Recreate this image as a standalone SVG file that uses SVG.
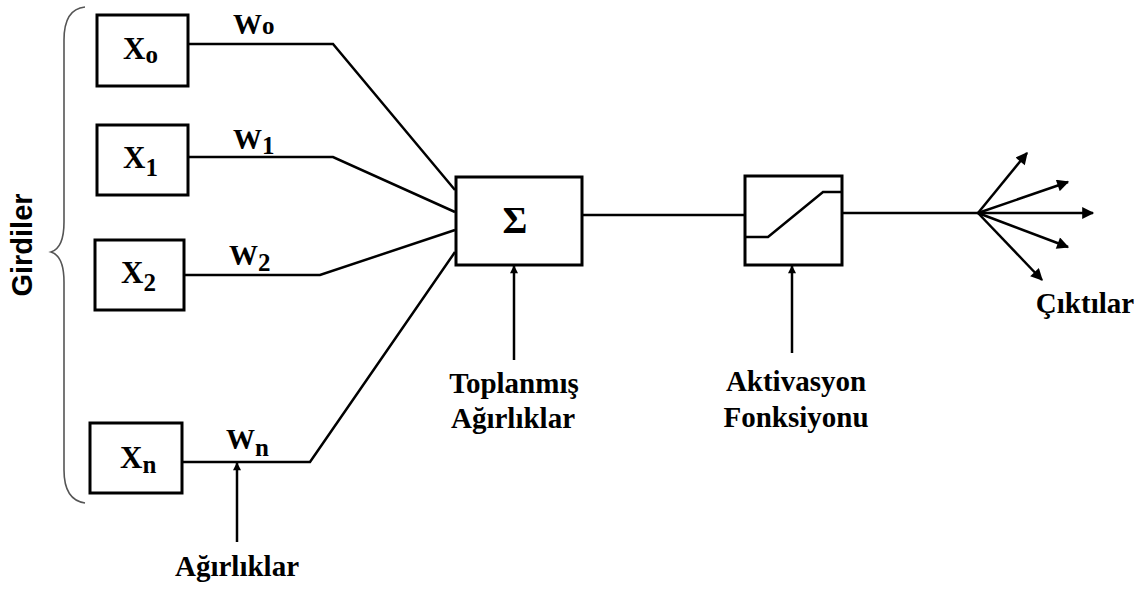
<svg xmlns="http://www.w3.org/2000/svg" width="1146" height="590" viewBox="0 0 1146 590">
<style>
.box{fill:#fff;stroke:#000;stroke-width:3}
.ln{fill:none;stroke:#000;stroke-width:2.5}
.t{font-family:"Liberation Serif","Times New Roman",serif;font-weight:bold;fill:#000}
.lbl{font-size:29px}
.xl{font-size:31px}
.sub{font-size:25px}
</style>
<defs>
<marker id="ah" viewBox="0 0 10 10" refX="9" refY="5" markerWidth="14" markerHeight="12" markerUnits="userSpaceOnUse" orient="auto">
<path d="M0,0 L10,5 L0,10 z" fill="#000"/>
</marker>
<marker id="ahs" viewBox="0 0 10 10" refX="9" refY="5" markerWidth="10" markerHeight="8" markerUnits="userSpaceOnUse" orient="auto">
<path d="M0,0 L10,5 L0,10 z" fill="#000"/>
</marker>
</defs>

<g id="brace">
<path d="M85,7 Q64,9 64,40 L64,222 Q64,248 51,252 Q64,256 64,282 L64,470 Q64,500 85,503" fill="none" stroke="#555" stroke-width="1.6"/>
<text x="22" y="245" transform="rotate(-90 22 245)" text-anchor="middle" dominant-baseline="central" font-family="'Liberation Sans',Arial,sans-serif" font-weight="bold" font-size="29">Girdiler</text>
</g>

<g id="connectors">
<polyline class="ln" points="188,44 333,44 455,190"/>
<polyline class="ln" points="188,157 333,157 455,212"/>
<polyline class="ln" points="183,275 320,275 455,230"/>
<polyline class="ln" points="182,462 310,462 455,252"/>
<line class="ln" x1="582" y1="215" x2="745" y2="215"/>
<line class="ln" x1="842" y1="213" x2="978" y2="213"/>
<line class="ln" x1="978" y1="213" x2="1027" y2="153" marker-end="url(#ah)"/>
<line class="ln" x1="978" y1="213" x2="1068" y2="182" marker-end="url(#ah)"/>
<line class="ln" x1="978" y1="213" x2="1093" y2="213" marker-end="url(#ah)"/>
<line class="ln" x1="978" y1="213" x2="1068" y2="247" marker-end="url(#ah)"/>
<line class="ln" x1="978" y1="213" x2="1042" y2="280" marker-end="url(#ah)"/>
<line class="ln" x1="514" y1="360" x2="514" y2="266" marker-end="url(#ahs)"/>
<line class="ln" x1="792" y1="353" x2="792" y2="266" marker-end="url(#ahs)"/>
<line class="ln" x1="237" y1="542" x2="237" y2="463" marker-end="url(#ahs)"/>
</g>

<g id="x0">
<rect class="box" x="97" y="15" width="91" height="71"/>
<text class="t xl" x="123" y="59">X<tspan class="sub" dy="4">o</tspan></text>
</g>
<g id="x1">
<rect class="box" x="97" y="125" width="91" height="70"/>
<text class="t xl" x="123" y="168">X<tspan class="sub" dy="8">1</tspan></text>
</g>
<g id="x2">
<rect class="box" x="95" y="240" width="89" height="70"/>
<text class="t xl" x="121" y="283">X<tspan class="sub" dy="8">2</tspan></text>
</g>
<g id="xn">
<rect class="box" x="90" y="423" width="92" height="70"/>
<text class="t xl" x="120" y="468">X<tspan class="sub" dy="5">n</tspan></text>
</g>

<g id="weights">
<text class="t lbl" x="233" y="34">W<tspan class="sub">o</tspan></text>
<text class="t lbl" x="233" y="149">W<tspan class="sub" dy="5">1</tspan></text>
<text class="t lbl" x="229" y="265">W<tspan class="sub" dy="6">2</tspan></text>
<text class="t lbl" x="226" y="449">W<tspan class="sub" dy="7">n</tspan></text>
</g>

<g id="sum">
<rect class="box" x="456" y="177" width="126" height="88"/>
<text class="t" x="515" y="233" text-anchor="middle" font-size="38">Σ</text>
</g>

<g id="activation">
<rect class="box" x="745" y="176" width="97" height="89"/>
<polyline class="ln" points="745,237 768,237 823,192 842,192"/>
</g>

<g id="labels">
<text class="t lbl" x="514" y="393" text-anchor="middle">Toplanmış</text>
<text class="t lbl" x="513" y="428" text-anchor="middle">Ağırlıklar</text>
<text class="t lbl" x="796" y="391" text-anchor="middle">Aktivasyon</text>
<text class="t lbl" x="796" y="427" text-anchor="middle">Fonksiyonu</text>
<text class="t lbl" x="1085" y="313" text-anchor="middle">Çıktılar</text>
<text class="t lbl" x="237" y="576" text-anchor="middle">Ağırlıklar</text>
</g>
</svg>
